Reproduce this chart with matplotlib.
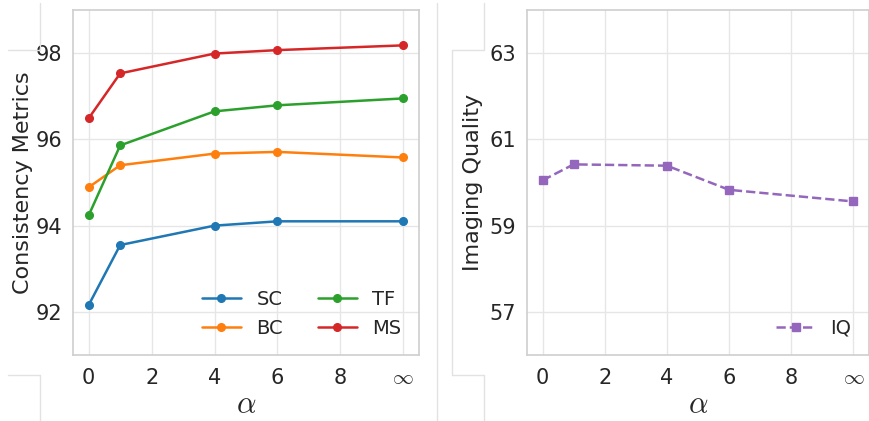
import matplotlib
matplotlib.use("Agg")
import matplotlib.pyplot as plt
import seaborn as sns
from matplotlib.lines import Line2D

sns.set_theme(style="whitegrid")
plt.rcParams['font.family'] = ['DejaVu Sans']
plt.rcParams['mathtext.fontset'] = 'cm'

alpha_pos = [0, 1, 4, 6, 10]
xtick_pos = [0, 2, 4, 6, 8, 10]
xtick_labels = ['0', '2', '4', '6', '8', r'$\infty$']

sc = [92.16, 93.55, 94.00, 94.10, 94.10]
bc = [94.89, 95.40, 95.67, 95.71, 95.58]
tf = [94.24, 95.86, 96.65, 96.79, 96.95]
ms = [96.49, 97.53, 97.99, 98.07, 98.18]
iq = [60.05, 60.42, 60.39, 59.83, 59.56]

left_yticks = [92, 94, 96, 98]
right_yticks = [57, 59, 61, 63]

fig = plt.figure(figsize=(8.7, 4.21), dpi=100)
W, H = 870, 421
ax1 = fig.add_axes([73 / W, 1 - 355 / H, 346 / W, 345 / H])
ax2 = fig.add_axes([527 / W, 1 - 355 / H, 342 / W, 345 / H])

colors = ['#1f77b4', '#ff7f0e', '#2ca02c', '#d62728']
for name, vals, c in [('SC', sc, colors[0]), ('BC', bc, colors[1]),
                      ('TF', tf, colors[2]), ('MS', ms, colors[3])]:
    ax1.plot(alpha_pos, vals, marker='o', color=c, lw=1.8, ms=5.5, label=name)

ax2.plot(alpha_pos, iq, marker='s', ls='--', color='#9467bd', lw=1.8, ms=5.5, label='IQ')

for ax in (ax1, ax2):
    ax.set_xlim(-0.5, 10.5)
    ax.set_xticks(xtick_pos)
    ax.set_xticklabels(xtick_labels)
    ax.tick_params(axis='both', labelsize=15, colors='#262626')
    ax.tick_params(axis='y', pad=2)
    ax.tick_params(axis='x', pad=3)
    ax.set_xlabel(r'$\alpha$', fontsize=22, color='#262626', labelpad=2)
    for s in ax.spines.values():
        s.set_color('#d0d0d0')
    ax.grid(color='#e6e6e6', lw=1)

ax1.set_ylim(91, 99)
ax1.set_yticks(left_yticks)
ax1.set_ylabel('Consistency Metrics', fontsize=16, color='#262626', labelpad=1.5)
ax2.set_ylim(56, 64)
ax2.set_yticks(right_yticks)
ax2.set_ylabel('Imaging Quality', fontsize=16, color='#262626', labelpad=4.5)

ax1.legend(ncol=2, loc='lower right', frameon=False, fontsize=14,
           handlelength=2.0, columnspacing=1.8)
ax2.legend(loc='lower right', frameon=False, fontsize=14, handlelength=2.0)

# faint frame artifacts present in the reference figure
def seg(x0, y0, x1, y1):
    fig.add_artist(Line2D([x0 / W, x1 / W], [1 - y0 / H, 1 - y1 / H],
                          color='#e2e2e2', lw=1, transform=fig.transFigure))

seg(40, 3, 40, 50); seg(8, 50, 40, 50)
seg(8, 375, 40, 375); seg(40, 375, 40, 421)
seg(437, 3, 437, 421)
seg(484, 3, 484, 50); seg(452, 50, 484, 50); seg(452, 50, 452, 375)
seg(452, 375, 484, 375); seg(484, 375, 484, 421)

fig.savefig('out.png', dpi=100)
